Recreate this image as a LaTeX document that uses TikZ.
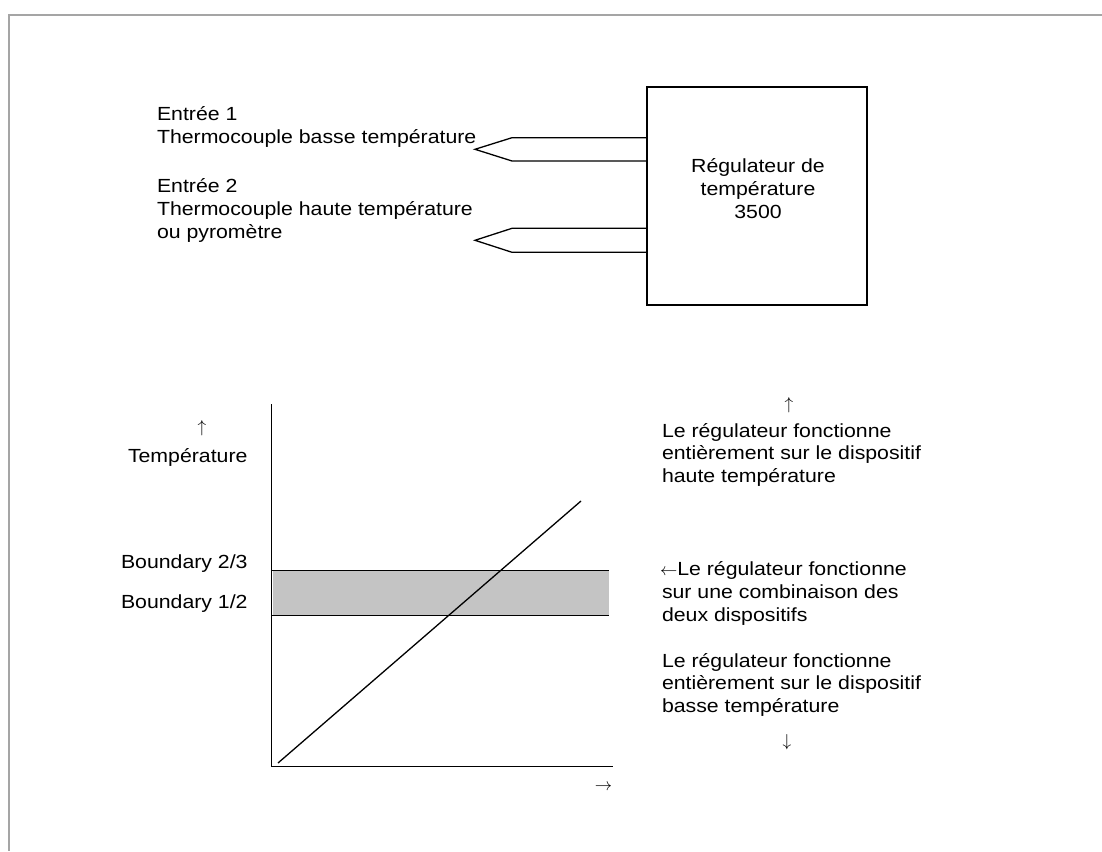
\documentclass[tikz,border=0pt]{standalone}
\usepackage{fontspec}
\setmainfont{Liberation Sans}[FakeStretch=1.12]
\begin{document}
\begin{tikzpicture}[x=1pt,y=-1pt,
  lbl/.style={inner sep=0pt,outer sep=0pt,font=\fontsize{19}{23}\selectfont,anchor=base west},
  lblc/.style={lbl,anchor=base},
  arr/.style={inner sep=0pt,outer sep=0pt,font=\fontsize{19}{23}\selectfont,anchor=center},
  ln/.style={line width=1.3pt,line join=miter},
  frame/.style={line width=2pt,draw={rgb,255:red,165;green,165;blue,165}}]
\useasboundingbox (0,0) rectangle (1102,851);
% frame
\draw[frame] (1102,15) -- (9,15) -- (9,851);
% controller box
\node[draw,ln,minimum width=220pt,minimum height=218pt,inner sep=0pt] (reg) at (757,196) {};
\node[lblc] (reg1) at (758,172) {Régulateur de};
\node[lblc] (reg2) at (758,195) {température};
\node[lblc] (reg3) at (758,218) {3500};
% probes
\draw[ln] (reg.west |- 0,137.7) -- (512,137.7) -- (475,149.3) -- (512,161) -- (reg.west |- 0,161);
\draw[ln] (reg.west |- 0,228.3) -- (512,228.3) -- (475,240.3) -- (512,252.3) -- (reg.west |- 0,252.3);
% input labels
\node[lbl] (in1a) at (157,120) {Entrée 1};
\node[lbl] (in1b) at (157,143) {Thermocouple basse température};
\node[lbl] (in2a) at (157,192) {Entrée 2};
\node[lbl] (in2b) at (157,215.5) {Thermocouple haute température};
\node[lbl] (in2c) at (157,238.5) {ou pyromètre};
% chart
\coordinate (O) at (271.7,766.7);
\coordinate (ytop) at (271.7,404);
\coordinate (xend) at (612.7,766.7);
\fill[fill={rgb,255:red,196;green,196;blue,196}] (273,570.7) rectangle (609,615.7);
\draw[ln] (271.7,570.7) -- (609,570.7);
\draw[ln] (271.7,615.7) -- (609,615.7);
\draw[ln] (ytop) -- (O) -- (xend);
\draw[ln] (278,763) -- (581,501);
\node[arr] (xarr) at (603.5,787) {$\rightarrow$};
\node[arr] (yarr) at (202,428.5) {$\uparrow$};
\node[lbl] (ylab) at (128,462) {Température};
\node[lbl] (b23) at (121,568) {Boundary 2/3};
\node[lbl] (b12) at (121,608) {Boundary 1/2};
% right-hand notes
\node[arr] (uparr) at (789,405) {$\uparrow$};
\node[lbl] (h1) at (662,437) {Le régulateur fonctionne};
\node[lbl] (h2) at (662,459.5) {entièrement sur le dispositif};
\node[lbl] (h3) at (662,482) {haute température};
\node[lbl] (m1) at (660,575) {$\leftarrow$Le régulateur fonctionne};
\node[lbl] (m2) at (662,598) {sur une combinaison des};
\node[lbl] (m3) at (662,621) {deux dispositifs};
\node[lbl] (l1) at (662,667) {Le régulateur fonctionne};
\node[lbl] (l2) at (662,689.5) {entièrement sur le dispositif};
\node[lbl] (l3) at (662,712) {basse température};
\node[arr] (dnarr) at (787,742.5) {$\downarrow$};
\end{tikzpicture}
\end{document}
